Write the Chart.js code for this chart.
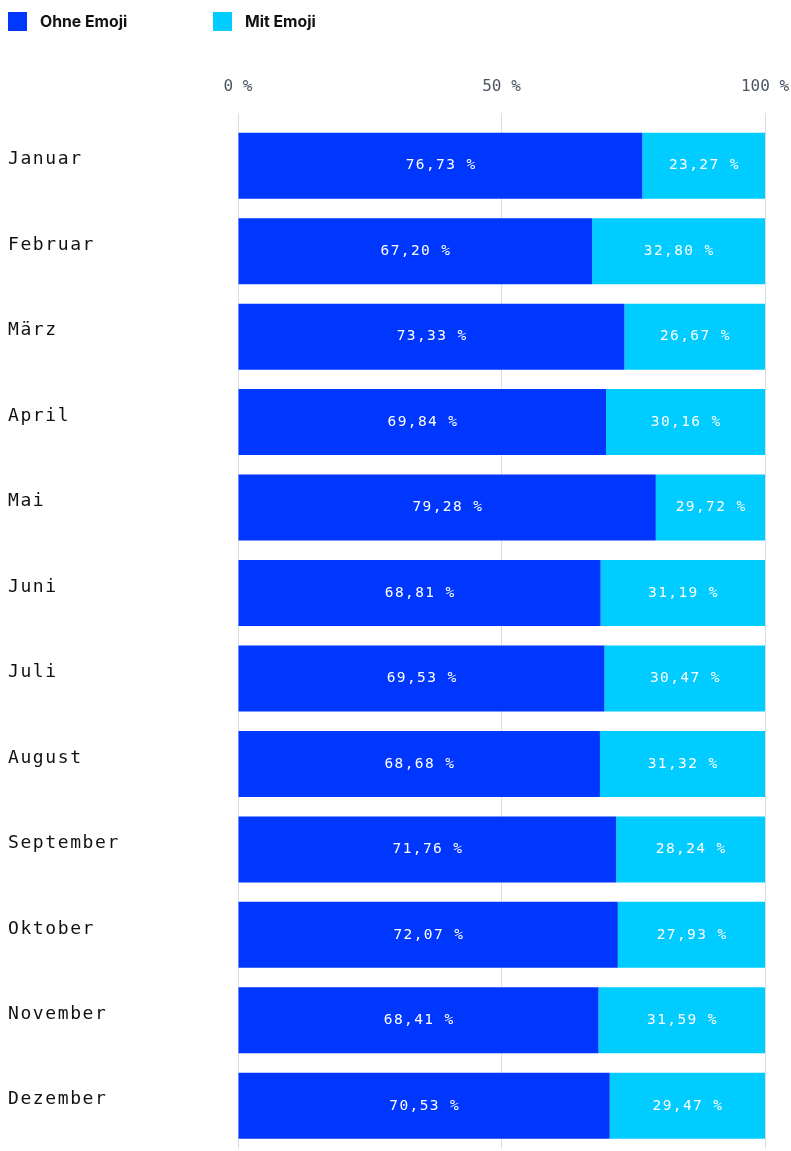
<!DOCTYPE html>
<html lang="de">
<head>
<meta charset="utf-8">
<title>Emoji-Anteil nach Monat</title>
<script src="https://cdn.jsdelivr.net/npm/chart.js@4.4.1/dist/chart.umd.min.js"></script>
<style>
  html, body { margin: 0; padding: 0; background: #fff; }
  #wrap { position: relative; width: 791px; height: 1151px; overflow: hidden; }
  #chart { position: absolute; left: 0; top: 0; }
  .legend { position: absolute; top: 12px; display: flex; align-items: center;
    font-family: Inter, "Noto Sans", sans-serif; font-weight: 700; font-size: 15.8px; color: #111; }
  .legend i { display: inline-block; width: 19px; height: 19px; margin-right: 13px; }
</style>
</head>
<body>
<div id="wrap">
  <canvas id="chart" width="791" height="1151"></canvas>
  <div class="legend" style="left:8px"><i style="background:#0037ff"></i>Ohne Emoji</div>
  <div class="legend" style="left:213px"><i style="background:#00ccff"></i>Mit Emoji</div>
</div>
<script>
const months = ["Januar", "Februar", "März", "April", "Mai", "Juni", "Juli",
  "August", "September", "Oktober", "November", "Dezember"];
const ohneEmoji = [76.73, 67.20, 73.33, 69.84, 79.28, 68.81, 69.53, 68.68, 71.76, 72.07, 68.41, 70.53];
const mitEmoji = [23.27, 32.80, 26.67, 30.16, 29.72, 31.19, 30.47, 31.32, 28.24, 27.93, 31.59, 29.47];
const xTicks = [0, 50, 100];

const DARK = "#0037ff";
const LIGHT = "#00ccff";
const MONO = "'DejaVu Sans Mono', 'Liberation Mono', monospace";

const fmt = v => v.toFixed(2).replace(".", ",") + " %";

// month names on the left and percentages inside the bars
const labelPlugin = {
  id: "labels",
  afterDatasetsDraw(chart) {
    const { ctx, chartArea } = chart;
    ctx.save();
    ctx.font = "14.5px " + MONO;
    ctx.letterSpacing = "1.4px";
    ctx.fillStyle = "#fff";
    ctx.textAlign = "center";
    ctx.textBaseline = "middle";
    chart.data.datasets.forEach((ds, di) => {
      chart.getDatasetMeta(di).data.forEach((bar, i) => {
        const l = Math.max(Math.min(bar.x, bar.base), chartArea.left);
        const r = Math.min(Math.max(bar.x, bar.base), chartArea.right);
        ctx.fillText(fmt(ds.data[i]), (l + r) / 2 + 0.7, bar.y);
      });
    });
    ctx.restore();
  },
  afterDraw(chart) {
    const { ctx } = chart;
    const y = chart.scales.y;
    ctx.save();
    ctx.font = "18px " + MONO;
    ctx.letterSpacing = "1.6px";
    ctx.fillStyle = "#111";
    ctx.textAlign = "left";
    ctx.textBaseline = "middle";
    months.forEach((m, i) => ctx.fillText(m, 8, y.getPixelForValue(i) - 6));
    ctx.restore();
  }
};

new Chart(document.getElementById("chart"), {
  type: "bar",
  data: {
    labels: months,
    datasets: [
      { label: "Ohne Emoji", data: ohneEmoji, backgroundColor: DARK },
      { label: "Mit Emoji", data: mitEmoji, backgroundColor: LIGHT }
    ]
  },
  options: {
    indexAxis: "y",
    responsive: false,
    devicePixelRatio: 1,
    animation: false,
    layout: { padding: { left: 238, right: 26, top: 0, bottom: 2.5 } },
    datasets: { bar: { categoryPercentage: 1, barPercentage: 0.772 } },
    plugins: { legend: { display: false }, tooltip: { enabled: false } },
    scales: {
      x: {
        type: "linear",
        position: "top",
        stacked: true,
        min: 0,
        max: 100,
        afterBuildTicks: s => { s.ticks = xTicks.map(v => ({ value: v })); },
        afterFit: s => {
          s.height = 123;
          s.paddingLeft = 0;
          s.paddingRight = 0;
        },
        ticks: {
          callback: v => v + " %",
          color: "#4b5563",
          font: { family: MONO, size: 16 },
          padding: 17,
          maxRotation: 0
        },
        grid: { color: "#d9dde3", tickLength: 10, lineWidth: 1 },
        border: { display: false }
      },
      y: {
        type: "category",
        stacked: true,
        display: false
      }
    }
  },
  plugins: [labelPlugin]
});
</script>
</body>
</html>
